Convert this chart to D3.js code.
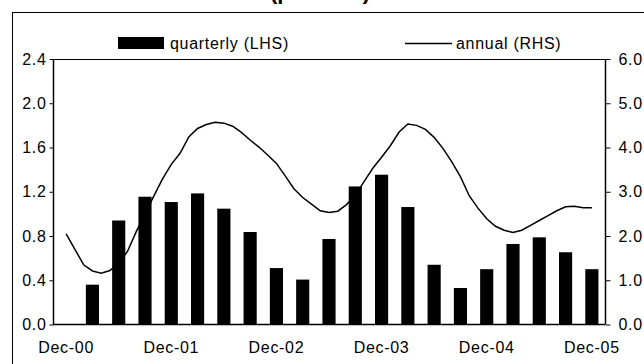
<!DOCTYPE html>
<html>
<head>
<meta charset="utf-8">
<script src="https://cdn.jsdelivr.net/npm/d3@7"></script>
<style>
  html, body { margin: 0; padding: 0; background: #fff; }
  svg { display: block; font-family: "Liberation Sans", Arial, sans-serif; }
  .lbl { letter-spacing: 0.7px; }
</style>
</head>
<body>
<svg id="chart" width="644" height="364"></svg>
<script>
// Category axis: December 2000 to December 2005, one slot per quarter
const quarters = ["Dec-00","Mar-01","Jun-01","Sep-01","Dec-01","Mar-02","Jun-02","Sep-02","Dec-02",
  "Mar-03","Jun-03","Sep-03","Dec-03","Mar-04","Jun-04","Sep-04","Dec-04","Mar-05","Jun-05","Sep-05","Dec-05"];
const tickLabels = ["Dec-00","Dec-01","Dec-02","Dec-03","Dec-04","Dec-05"];

// Quarterly change, left-hand scale (no value for Dec-00)
const quarterly = [null, 0.36, 0.94, 1.155, 1.107, 1.185, 1.047, 0.836, 0.51, 0.406, 0.773,
  1.248, 1.354, 1.062, 0.54, 0.33, 0.50, 0.728, 0.788, 0.653, 0.50];

// Annual change, right-hand scale, monthly from Dec-00 to Dec-05
const annual = [2.05, 1.70, 1.35, 1.21, 1.16, 1.22, 1.39, 1.65, 2.10, 2.50, 2.90, 3.29,
  3.62, 3.87, 4.24, 4.43, 4.52, 4.57, 4.55, 4.48, 4.34, 4.17, 4.01, 3.83,
  3.64, 3.36, 3.07, 2.87, 2.72, 2.57, 2.53, 2.56, 2.71, 2.92, 3.23, 3.53,
  3.78, 4.04, 4.35, 4.53, 4.50, 4.41, 4.23, 3.98, 3.68, 3.34, 2.91, 2.63,
  2.39, 2.22, 2.13, 2.08, 2.13, 2.24, 2.35, 2.46, 2.57, 2.66, 2.67, 2.64, 2.64];

const leftTicks = [0, 0.4, 0.8, 1.2, 1.6, 2.0, 2.4];
const rightTicks = [0, 1, 2, 3, 4, 5, 6];

const svg = d3.select("#chart");
const m = { left: 53, right: 605, top: 59, bottom: 324.5 };

// Outer frame (extends past the right and bottom edges)
svg.append("rect").attr("x", 12.5).attr("y", 12.5).attr("width", 700).attr("height", 400)
  .attr("fill", "none").attr("stroke", "#000").attr("stroke-width", 1);

// Title (its upper part lies above the page)
svg.append("text").attr("x", 320).attr("y", -1).attr("text-anchor", "middle")
  .attr("font-size", 22).attr("font-weight", "bold").attr("fill", "#000").text("(per cent)");

const xSlot = d3.scaleBand().domain(quarters).range([m.left, m.right]);
const yL = d3.scaleLinear().domain([0, 2.4]).range([m.bottom, m.top]);
const yR = d3.scaleLinear().domain([0, 6]).range([m.bottom, m.top]);
const xMonth = d3.scaleLinear().domain([0, 60])
  .range([xSlot("Dec-00") + xSlot.bandwidth() / 2, xSlot("Dec-05") + xSlot.bandwidth() / 2]);

// Bars
const barW = xSlot.bandwidth() * 0.5;
svg.append("g").selectAll("rect").data(quarters.map((q, i) => ({ q, v: quarterly[i] })).filter(d => d.v != null))
  .join("rect")
  .attr("x", d => xSlot(d.q) + xSlot.bandwidth() / 2 - barW / 2)
  .attr("width", barW)
  .attr("y", d => yL(d.v))
  .attr("height", d => yL(0) - yL(d.v))
  .attr("fill", "#000");

// Line
svg.append("path").datum(annual)
  .attr("fill", "none").attr("stroke", "#000").attr("stroke-width", 1.5)
  .attr("d", d3.line().x((d, i) => xMonth(i)).y(d => yR(d)));

// Plot area top border
svg.append("line").attr("x1", m.left).attr("x2", m.right).attr("y1", m.top + 0.5).attr("y2", m.top + 0.5)
  .attr("stroke", "#000");

// Left axis
const gL = svg.append("g").attr("transform", `translate(${m.left + 0.5},0)`)
  .call(d3.axisLeft(yL).tickValues(leftTicks).tickFormat(d3.format(".1f")).tickSize(4).tickPadding(3));
// Right axis
const gR = svg.append("g").attr("transform", `translate(${m.right + 0.5},0)`)
  .call(d3.axisRight(yR).tickValues(rightTicks).tickFormat(d3.format(".1f")).tickSize(5).tickPadding(8));
// Bottom axis
const gB = svg.append("g").attr("transform", `translate(0,${m.bottom})`)
  .call(d3.axisBottom(xSlot).tickValues(tickLabels).tickSize(0).tickPadding(17));

[gL, gR, gB].forEach(g => {
  g.select(".domain").attr("stroke", "#000").attr("stroke-width", 1.5);
  g.selectAll(".tick line").attr("stroke", "#000");
  g.selectAll("text").attr("font-size", 16).attr("fill", "#000").attr("class", "lbl")
    .attr("font-family", "'Liberation Sans', Arial, sans-serif");
});
gL.select(".domain").attr("d", `M0,${m.top}V${m.bottom}`);
gR.select(".domain").attr("d", `M0,${m.top}V${m.bottom}`);
gB.select(".domain").attr("d", `M${m.left},0H${m.right}`);

// Legend
const lg = svg.append("g").attr("font-size", 16);
lg.append("rect").attr("x", 118).attr("y", 37).attr("width", 46).attr("height", 12).attr("fill", "#000");
lg.append("text").attr("class", "lbl").attr("x", 170).attr("y", 49).text("quarterly (LHS)");
lg.append("line").attr("x1", 405).attr("x2", 452).attr("y1", 43.5).attr("y2", 43.5).attr("stroke", "#000").attr("stroke-width", 1.5);
lg.append("text").attr("class", "lbl").attr("x", 456).attr("y", 49).text("annual (RHS)");
</script>
</body>
</html>
